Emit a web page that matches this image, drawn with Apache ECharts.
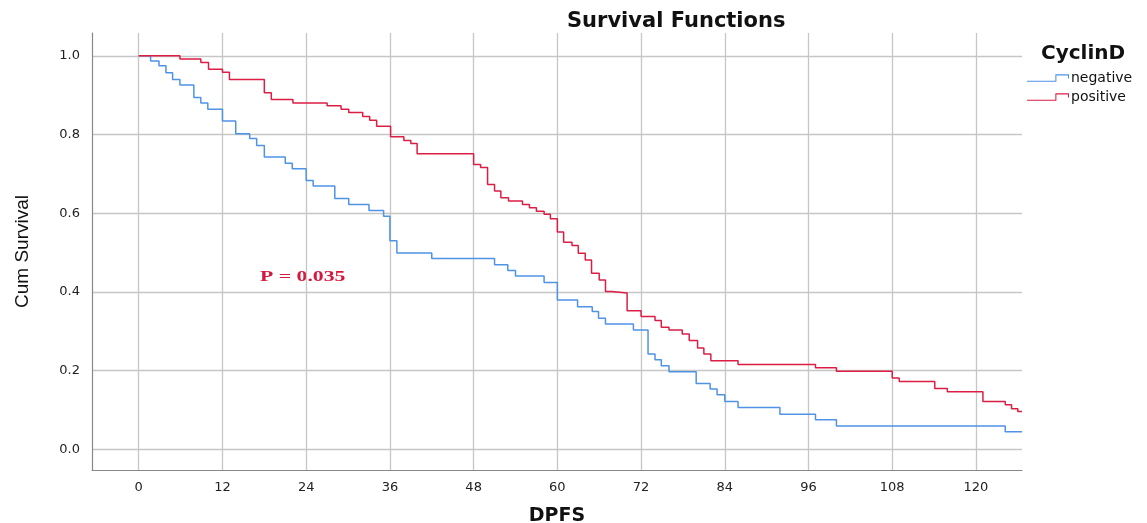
<!DOCTYPE html>
<html>
<head>
<meta charset="utf-8">
<title>Survival Functions</title>
<script src="https://cdn.jsdelivr.net/npm/echarts@6/dist/echarts.min.js"></script>
<style>
  html, body { margin: 0; padding: 0; background: #fff; }
  #chart { width: 1147px; height: 523px; }
</style>
</head>
<body>
<div id="chart"></div>
<script>
// Kaplan-Meier steps (months, cumulative survival)
var negTime = [0, 1.7, 2.9, 3.9, 4.85, 5.9, 7.9, 8.9, 9.9, 12, 13.9, 15.9, 16.9, 18, 21, 22, 24, 25, 28.1, 30.1,
  33, 35.1, 36, 37, 42, 51, 52.9, 54, 58.1, 60, 62.9, 65, 65.9, 66.9, 70.9, 73, 74, 74.9, 76, 79.9,
  81.9, 82.9, 84, 85.9, 91.9, 97, 100, 124.2, 126.6];
var negSurv = [1, 0.987, 0.975, 0.957, 0.94, 0.926, 0.894, 0.88, 0.864, 0.834, 0.802, 0.79, 0.772, 0.743, 0.727, 0.713, 0.683, 0.669, 0.637, 0.622,
  0.607, 0.592, 0.53, 0.499, 0.485, 0.469, 0.454, 0.44, 0.424, 0.379, 0.362, 0.35, 0.333, 0.318, 0.303, 0.242, 0.227, 0.212, 0.197, 0.167,
  0.153, 0.138, 0.121, 0.106, 0.089, 0.075, 0.059, 0.044, 0.044];

var posTime = [0, 5.9, 8.9, 10, 12, 13, 18, 19, 22.1, 27, 29, 30.1, 32.1, 33.1, 34.1, 36.1, 38, 39, 39.9, 48,
  49, 50, 51, 51.9, 53, 55, 56, 57, 58.1, 59, 60, 60.9, 62.1, 63, 64, 64.9, 66, 66.9, 67.8, 70,
  72, 74, 74.9, 76, 77.9, 78.9, 80.1, 81, 82, 85.9, 97, 100, 108, 109, 114.1, 115.9, 121, 124.2, 125.1, 126, 126.6];
var posSurv = [1, 0.992, 0.983, 0.966, 0.958, 0.94, 0.906, 0.889, 0.88, 0.873, 0.864, 0.856, 0.846, 0.836, 0.821, 0.794, 0.785, 0.777, 0.751, 0.724,
  0.716, 0.673, 0.656, 0.639, 0.631, 0.622, 0.614, 0.605, 0.597, 0.586, 0.552, 0.526, 0.518, 0.498, 0.481, 0.447, 0.43, 0.401, 0.397, 0.352,
  0.337, 0.327, 0.31, 0.303, 0.293, 0.276, 0.257, 0.242, 0.225, 0.215, 0.207, 0.198, 0.181, 0.172, 0.154, 0.146, 0.121, 0.113, 0.103, 0.096, 0.096];

var xTicks = [0, 12, 24, 36, 48, 60, 72, 84, 96, 108, 120];
var yTicks = [0, 0.2, 0.4, 0.6, 0.8, 1.0];
var groups = ['negative', 'positive'];

function pairs(t, s) {
  return t.map(function (v, i) { return [v, s[i]]; });
}

// little step glyph used in the legend (thin outline drawn as a filled path)
var stepIcon = 'path://M0,6 L27,6 L27,0 L40,0 L40,4 L39,4 L39,1 L28,1 L28,7 L0,7 Z';

var chart = echarts.init(document.getElementById('chart'));

var option = {
  backgroundColor: '#fff',
  animation: false,
  color: ['#4f93e6', '#dc1e45'],
  title: [
    {
      text: 'Survival Functions',
      left: 562,
      top: 6,
      textStyle: { fontFamily: 'DejaVu Sans', fontWeight: 'bold', fontSize: 21, color: '#111' }
    },
    {
      text: 'CyclinD',
      left: 1036,
      top: 39,
      textStyle: { fontFamily: 'DejaVu Sans', fontWeight: 'bold', fontSize: 20, color: '#111' }
    }
  ],
  legend: {
    data: groups,
    orient: 'vertical',
    left: 1022,
    top: 66,
    itemWidth: 42,
    itemHeight: 8,
    itemGap: 5,
    icon: stepIcon,
    textStyle: { fontFamily: 'DejaVu Sans', fontSize: 14, color: '#111', padding: [0, 0, 0, -3] }
  },
  grid: { left: 92, right: 125, top: 33, bottom: 53, outerBoundsMode: 'none' },
  xAxis: {
    type: 'value',
    min: -6.7,
    max: 126.6,
    name: 'DPFS',
    nameLocation: 'middle',
    nameGap: 37,
    nameTextStyle: { fontFamily: 'DejaVu Sans', fontWeight: 'bold', fontSize: 19, color: '#111' },
    axisLine: { show: true, onZero: false, lineStyle: { color: '#888', width: 1.2 } },
    axisTick: { show: false, customValues: xTicks },
    axisLabel: { customValues: xTicks, margin: 11, fontFamily: 'DejaVu Sans', fontSize: 13, color: '#222' },
    splitLine: { show: true, lineStyle: { color: '#c6c6c6', width: 1.3 } }
  },
  yAxis: {
    type: 'value',
    min: -0.053,
    max: 1.058,
    name: 'Cum Survival',
    nameLocation: 'middle',
    nameGap: 60,
    nameTextStyle: { fontFamily: 'Liberation Sans', fontSize: 19, color: '#111' },
    axisLine: { show: true, onZero: false, lineStyle: { color: '#888', width: 1.2 } },
    axisTick: { show: false, customValues: yTicks },
    axisLabel: {
      customValues: yTicks,
      margin: 12,
      fontFamily: 'DejaVu Sans',
      fontSize: 13,
      color: '#222',
      formatter: function (v) { return v.toFixed(1); }
    },
    splitLine: { show: true, lineStyle: { color: '#c6c6c6', width: 1.3 } }
  },
  graphic: [
    {
      type: 'text',
      x: 260,
      y: 270,
      scaleX: 1.45,
      style: { text: 'P = 0.035', font: 'bold 15px "Liberation Serif"', fill: '#d6173e' }
    }
  ],
  series: [
    {
      name: groups[0],
      type: 'line',
      step: 'end',
      showSymbol: false,
      lineStyle: { width: 1.5 },
      data: pairs(negTime, negSurv)
    },
    {
      name: groups[1],
      type: 'line',
      step: 'end',
      showSymbol: false,
      lineStyle: { width: 1.5 },
      data: pairs(posTime, posSurv)
    }
  ]
};

chart.setOption(option);
</script>
</body>
</html>
